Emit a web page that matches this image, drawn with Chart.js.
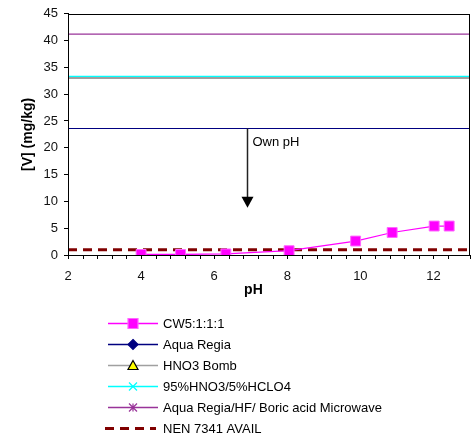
<!DOCTYPE html>
<html>
<head>
<meta charset="utf-8">
<script src="https://cdn.jsdelivr.net/npm/chart.js@4.4.0/dist/chart.umd.min.js"></script>
<style>
    html, body { margin: 0; padding: 0; background: #fff; }
    #wrap { width: 472px; height: 438px; position: relative; }
</style>
</head>
<body>
<div id="wrap"><canvas id="vChart"></canvas></div>
<script>
// CW5:1:1:1 leaching test
const cwPH = [4.0, 5.08, 6.32, 8.05, 9.87, 10.87, 12.02, 12.43];
const cwV = [0.1, 0.1, 0.2, 0.8, 2.6, 4.2, 5.4, 5.4];

// total digestion levels, drawn across the whole pH range
const levelPH = [2, 13];
const aquaRegia = [23.6, 23.6];
const hno3Bomb = [33.0, 33.0];
const hno3Hclo4 = [33.3, 33.3];
const microwave = [41.2, 41.2];
const nen7341 = [1.0, 1.0];

// "Own pH" arrow
const ownPH = 6.9;
const ownArrow = [23.6, 8.8];

const xTicks = [2, 4, 6, 8, 10, 12];
const yMin = 0, yMax = 45, yStep = 5;

const FONT = "'Liberation Sans', Arial, sans-serif";

function pts(xs, ys) {
    return xs.map(function(x, i) { return { x: x, y: ys[i] }; });
}

function drawMarker(ctx, style, x, y, r) {
    ctx.beginPath();
    if (style === 'rect') {
        ctx.rect(x - r, y - r, 2 * r, 2 * r);
        ctx.fill(); ctx.stroke();
    } else if (style === 'rectRot') {
        ctx.moveTo(x, y - r); ctx.lineTo(x + r, y); ctx.lineTo(x, y + r); ctx.lineTo(x - r, y);
        ctx.closePath(); ctx.fill(); ctx.stroke();
    } else if (style === 'triangle') {
        ctx.moveTo(x, y - r); ctx.lineTo(x + r, y + r * 0.8); ctx.lineTo(x - r, y + r * 0.8);
        ctx.closePath(); ctx.fill(); ctx.stroke();
    } else if (style === 'crossRot') {
        ctx.moveTo(x - r, y - r); ctx.lineTo(x + r, y + r);
        ctx.moveTo(x + r, y - r); ctx.lineTo(x - r, y + r);
        ctx.stroke();
    } else if (style === 'star') {
        ctx.moveTo(x - r, y - r); ctx.lineTo(x + r, y + r);
        ctx.moveTo(x + r, y - r); ctx.lineTo(x - r, y + r);
        ctx.moveTo(x, y - r); ctx.lineTo(x, y + r);
        ctx.stroke();
    }
}

// frame, x tick marks, arrow annotation and the legend below the plot
const extras = {
    id: 'extras',
    afterDatasetsDraw: function(chart) {
        const ctx = chart.ctx;
        const a = chart.chartArea;
        const xs = chart.scales.x, ys = chart.scales.y;
        ctx.save();
        ctx.strokeStyle = '#000';
        ctx.lineWidth = 1;
        ctx.strokeRect(Math.round(a.left) + 0.5, Math.round(a.top) + 0.5,
            Math.round(a.right - a.left) - 1, Math.round(a.bottom - a.top));

        // short tick marks under the x axis
        ctx.beginPath();
        xs.ticks.forEach(function(t) {
            const px = Math.round(xs.getPixelForValue(t.value)) + 0.5;
            ctx.moveTo(px, a.bottom);
            ctx.lineTo(px, a.bottom + 4);
        });
        ctx.stroke();

        // arrow
        const ax = Math.round(xs.getPixelForValue(ownPH)) + 0.5;
        const ay1 = ys.getPixelForValue(ownArrow[0]);
        const ay2 = ys.getPixelForValue(ownArrow[1]);
        ctx.strokeStyle = '#222';
        ctx.lineWidth = 1.5;
        ctx.beginPath();
        ctx.moveTo(ax, ay1); ctx.lineTo(ax, ay2 - 10);
        ctx.stroke();
        ctx.fillStyle = '#000';
        ctx.beginPath();
        ctx.moveTo(ax - 6, ay2 - 11); ctx.lineTo(ax + 6, ay2 - 11); ctx.lineTo(ax, ay2);
        ctx.closePath(); ctx.fill();
        ctx.font = '13px ' + FONT;
        ctx.textBaseline = 'middle';
        ctx.textAlign = 'left';
        ctx.fillText('Own pH', ax + 5, ay1 + 14);
        ctx.restore();
    },
    afterDraw: function(chart) {
        const ctx = chart.ctx;
        ctx.save();
        ctx.font = '13px ' + FONT;
        ctx.textBaseline = 'middle';
        ctx.textAlign = 'left';
        chart.data.datasets.forEach(function(ds, i) {
            const y = Math.round(323 + i * 21) + 0.5;
            ctx.strokeStyle = ds.borderColor;
            ctx.lineWidth = ds.borderDash ? 3 : 1.5;
            ctx.setLineDash(ds.borderDash || []);
            ctx.beginPath();
            ctx.moveTo(ds.borderDash ? 105 : 108, y);
            ctx.lineTo(ds.borderDash ? 156 : 158, y);
            ctx.stroke();
            ctx.setLineDash([]);
            if (ds.legendPoint) {
                ctx.fillStyle = ds.legendPoint.fill;
                ctx.strokeStyle = ds.legendPoint.stroke;
                ctx.lineWidth = 1.2;
                drawMarker(ctx, ds.legendPoint.style, 133, y, ds.legendPoint.r);
            }
            ctx.fillStyle = '#000';
            ctx.fillText(ds.label, 163, y + 0.5);
        });
        ctx.restore();
    }
};

const ctx = document.getElementById('vChart').getContext('2d');
new Chart(ctx, {
    type: 'line',
    data: {
        datasets: [{
            label: 'CW5:1:1:1',
            data: pts(cwPH, cwV),
            borderColor: '#ff00ff',
            borderWidth: 1.2,
            tension: 0,
            pointStyle: 'rect',
            pointRadius: 7,
            pointBackgroundColor: '#ff00ff',
            pointBorderColor: '#ff66ff',
            pointBorderWidth: 1,
            legendPoint: { style: 'rect', r: 5, fill: '#ff00ff', stroke: '#ff66ff' }
        }, {
            label: 'Aqua Regia',
            data: pts(levelPH, aquaRegia),
            borderColor: '#000080',
            borderWidth: 1.2,
            pointRadius: 0,
            legendPoint: { style: 'rectRot', r: 5, fill: '#000080', stroke: '#000080' }
        }, {
            label: 'HNO3 Bomb',
            data: pts(levelPH, hno3Bomb),
            borderColor: '#a0a0a0',
            borderWidth: 2,
            pointRadius: 0,
            legendPoint: { style: 'triangle', r: 5, fill: '#ffff00', stroke: '#000' }
        }, {
            label: '95%HNO3/5%HCLO4',
            data: pts(levelPH, hno3Hclo4),
            borderColor: '#00ffff',
            borderWidth: 1.5,
            pointRadius: 0,
            legendPoint: { style: 'crossRot', r: 4, fill: '#00ffff', stroke: '#00ffff' }
        }, {
            label: 'Aqua Regia/HF/ Boric acid Microwave',
            data: pts(levelPH, microwave),
            borderColor: '#993399',
            borderWidth: 1.2,
            pointRadius: 0,
            legendPoint: { style: 'star', r: 4, fill: '#993399', stroke: '#993399' }
        }, {
            label: 'NEN 7341 AVAIL',
            data: pts(levelPH, nen7341),
            borderColor: '#800000',
            borderWidth: 3,
            borderDash: [9, 6],
            pointRadius: 0
        }]
    },
    options: {
        responsive: true,
        maintainAspectRatio: false,
        animation: false,
        layout: { autoPadding: false, padding: { top: 12, right: 2, left: 16, bottom: 135 } },
        plugins: {
            legend: { display: false },
            tooltip: { enabled: false }
        },
        scales: {
            x: {
                type: 'linear',
                min: 2,
                max: 13,
                border: { color: '#000', width: 1 },
                grid: { drawOnChartArea: false, drawTicks: true, tickLength: 14, tickColor: 'rgba(0,0,0,0)' },
                ticks: {
                    stepSize: 0.4,
                    autoSkip: false,
                    maxRotation: 0,
                    minRotation: 0,
                    padding: 0,
                    color: '#111',
                    font: { family: FONT, size: 13 },
                    callback: function(v) {
                        const r = Math.round(v);
                        return (Math.abs(v - r) < 1e-6 && xTicks.indexOf(r) >= 0) ? String(r) : '';
                    }
                },
                title: {
                    display: true,
                    // trailing spaces nudge the title a bit left, like the original
                    text: 'pH' + '\u00a0'.repeat(8),
                    color: '#000',
                    padding: { top: 0, bottom: 4 },
                    font: { family: FONT, size: 14, weight: 'bold' }
                },
                afterFit: function(s) { s.height = 48; }
            },
            y: {
                min: yMin,
                max: yMax,
                border: { color: '#000', width: 1 },
                grid: { drawOnChartArea: false, drawTicks: true, tickLength: 4, color: '#000' },
                ticks: {
                    stepSize: yStep,
                    padding: 6,
                    color: '#111',
                    font: { family: FONT, size: 13 }
                },
                title: {
                    display: true,
                    text: '[V] (mg/kg)',
                    color: '#000',
                    padding: { top: 4, bottom: 4 },
                    font: { family: FONT, size: 14, weight: 'bold' }
                },
                afterFit: function(s) { s.width = 52; }
            }
        }
    },
    plugins: [extras]
});
</script>
</body>
</html>
